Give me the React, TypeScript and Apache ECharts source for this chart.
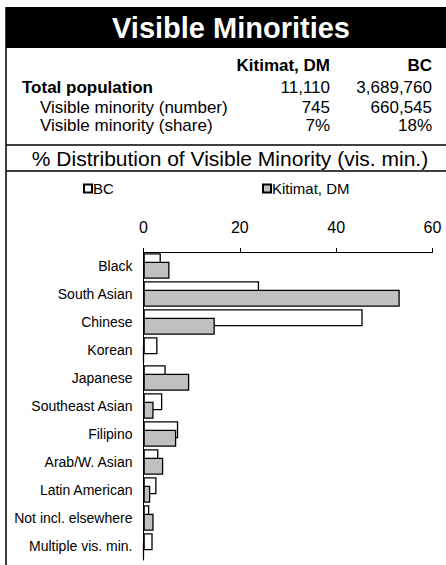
import React, { useEffect, useRef } from "react";
import * as echarts from "echarts";

const categories = [
  "Black",
  "South Asian",
  "Chinese",
  "Korean",
  "Japanese",
  "Southeast Asian",
  "Filipino",
  "Arab/W. Asian",
  "Latin American",
  "Not incl. elsewhere",
  "Multiple vis. min.",
];
const bcValues = [3.6, 24.0, 45.5, 2.9, 4.6, 3.9, 7.2, 3.1, 2.7, 1.2, 1.9];
const kitimatValues = [5.4, 53.2, 14.8, 0, 9.5, 2.1, 6.8, 4.1, 1.4, 2.1, 0];

const titleText = "Visible Minorities";
const subtitleText = "% Distribution of Visible Minority (vis. min.)";
const tableColumns = ["Kitimat, DM", "BC"];
const tableRows = ["Total population", "Visible minority (number)", "Visible minority (share)"];
const kitimatStats = ["11,110", "745", "7%"];
const bcStats = ["3,689,760", "660,545", "18%"];

const FONT = '"Liberation Sans", Arial, sans-serif';

export default function App() {
  const ref = useRef<HTMLDivElement>(null);
  useEffect(() => {
    if (!ref.current) return;
    const chart = echarts.init(ref.current, null, { renderer: "svg" });
    const rowY = [87, 107, 125];
    const graphic: any[] = [
      { type: "rect", shape: { x: 6, y: 7, width: 440, height: 41 }, style: { fill: "#000" } },
      {
        type: "text",
        x: 231,
        y: 28,
        style: { text: titleText, fill: "#fff", fontSize: 29, fontWeight: "bold", fontFamily: FONT, align: "center", verticalAlign: "middle" },
      },
      { type: "line", shape: { x1: 6, y1: 7, x2: 6, y2: 565 }, style: { stroke: "#000", lineWidth: 1.5 } },
      { type: "line", shape: { x1: 6, y1: 145, x2: 446, y2: 145 }, style: { stroke: "#000", lineWidth: 1.5 } },
      { type: "line", shape: { x1: 6, y1: 171, x2: 446, y2: 171 }, style: { stroke: "#000", lineWidth: 1.5 } },
      {
        type: "text",
        x: 230,
        y: 158,
        style: { text: subtitleText, fill: "#000", fontSize: 21, lineHeight: 21, fontFamily: FONT, align: "center", verticalAlign: "middle" },
      },
      {
        type: "text",
        x: 330,
        y: 65,
        style: { text: tableColumns[0], fill: "#000", fontSize: 17, lineHeight: 17, fontWeight: "bold", fontFamily: FONT, align: "right", verticalAlign: "middle" },
      },
      {
        type: "text",
        x: 432,
        y: 65,
        style: { text: tableColumns[1], fill: "#000", fontSize: 17, lineHeight: 17, fontWeight: "bold", fontFamily: FONT, align: "right", verticalAlign: "middle" },
      },
    ];
    tableRows.forEach((r, i) => {
      graphic.push({
        type: "text",
        x: i === 0 ? 22 : 40,
        y: rowY[i],
        style: { text: r, fill: "#000", fontSize: 17, lineHeight: 17, fontWeight: i === 0 ? "bold" : "normal", fontFamily: FONT, align: "left", verticalAlign: "middle" },
      });
      graphic.push({
        type: "text",
        x: 330,
        y: rowY[i],
        style: { text: kitimatStats[i], fill: "#000", fontSize: 17, lineHeight: 17, fontFamily: FONT, align: "right", verticalAlign: "middle" },
      });
      graphic.push({
        type: "text",
        x: 432,
        y: rowY[i],
        style: { text: bcStats[i], fill: "#000", fontSize: 17, lineHeight: 17, fontFamily: FONT, align: "right", verticalAlign: "middle" },
      });
    });

    const legendBase = {
      top: 181,
      padding: 0,
      icon: "rect",
      itemWidth: 8,
      itemHeight: 8,
      textStyle: { fontSize: 15, color: "#000", fontFamily: FONT, padding: [0, 0, 0, -4] },
    };

    chart.setOption({
      animation: false,
      textStyle: { fontFamily: FONT },
      graphic,
      legend: [
        { ...legendBase, data: ["BC"], left: 83 },
        { ...legendBase, data: ["Kitimat, DM"], left: 262 },
      ],
      grid: { left: 143.5, right: 13.5, top: 252, bottom: 5, containLabel: false },
      xAxis: {
        type: "value",
        position: "top",
        min: 0,
        max: 60,
        interval: 20,
        axisLine: { show: true, lineStyle: { color: "#000", width: 1 } },
        axisTick: { show: true, length: 4, lineStyle: { color: "#000" } },
        axisLabel: { fontSize: 16, color: "#000", margin: 17, fontFamily: FONT },
        splitLine: { show: false },
      },
      yAxis: {
        type: "category",
        data: categories,
        inverse: true,
        axisLine: { show: true, lineStyle: { color: "#000", width: 1 } },
        axisTick: { show: false },
        axisLabel: { fontSize: 14, color: "#000", margin: 11, fontFamily: FONT },
      },
      series: [
        {
          name: "BC",
          type: "bar",
          data: bcValues,
          barWidth: 17,
          barGap: "-50%",
          itemStyle: { color: "#ffffff", borderColor: "#000", borderWidth: 1.3 },
        },
        {
          name: "Kitimat, DM",
          type: "bar",
          data: kitimatValues,
          barWidth: 17,
          barGap: "-50%",
          itemStyle: { color: "#c0c0c0", borderColor: "#000", borderWidth: 1.3 },
        },
      ],
    });
    return () => chart.dispose();
  }, []);
  return (
    <div
      ref={ref}
      style={{ position: "absolute", left: 0, top: 0, width: 446, height: 565, background: "#fff" }}
    />
  );
}
